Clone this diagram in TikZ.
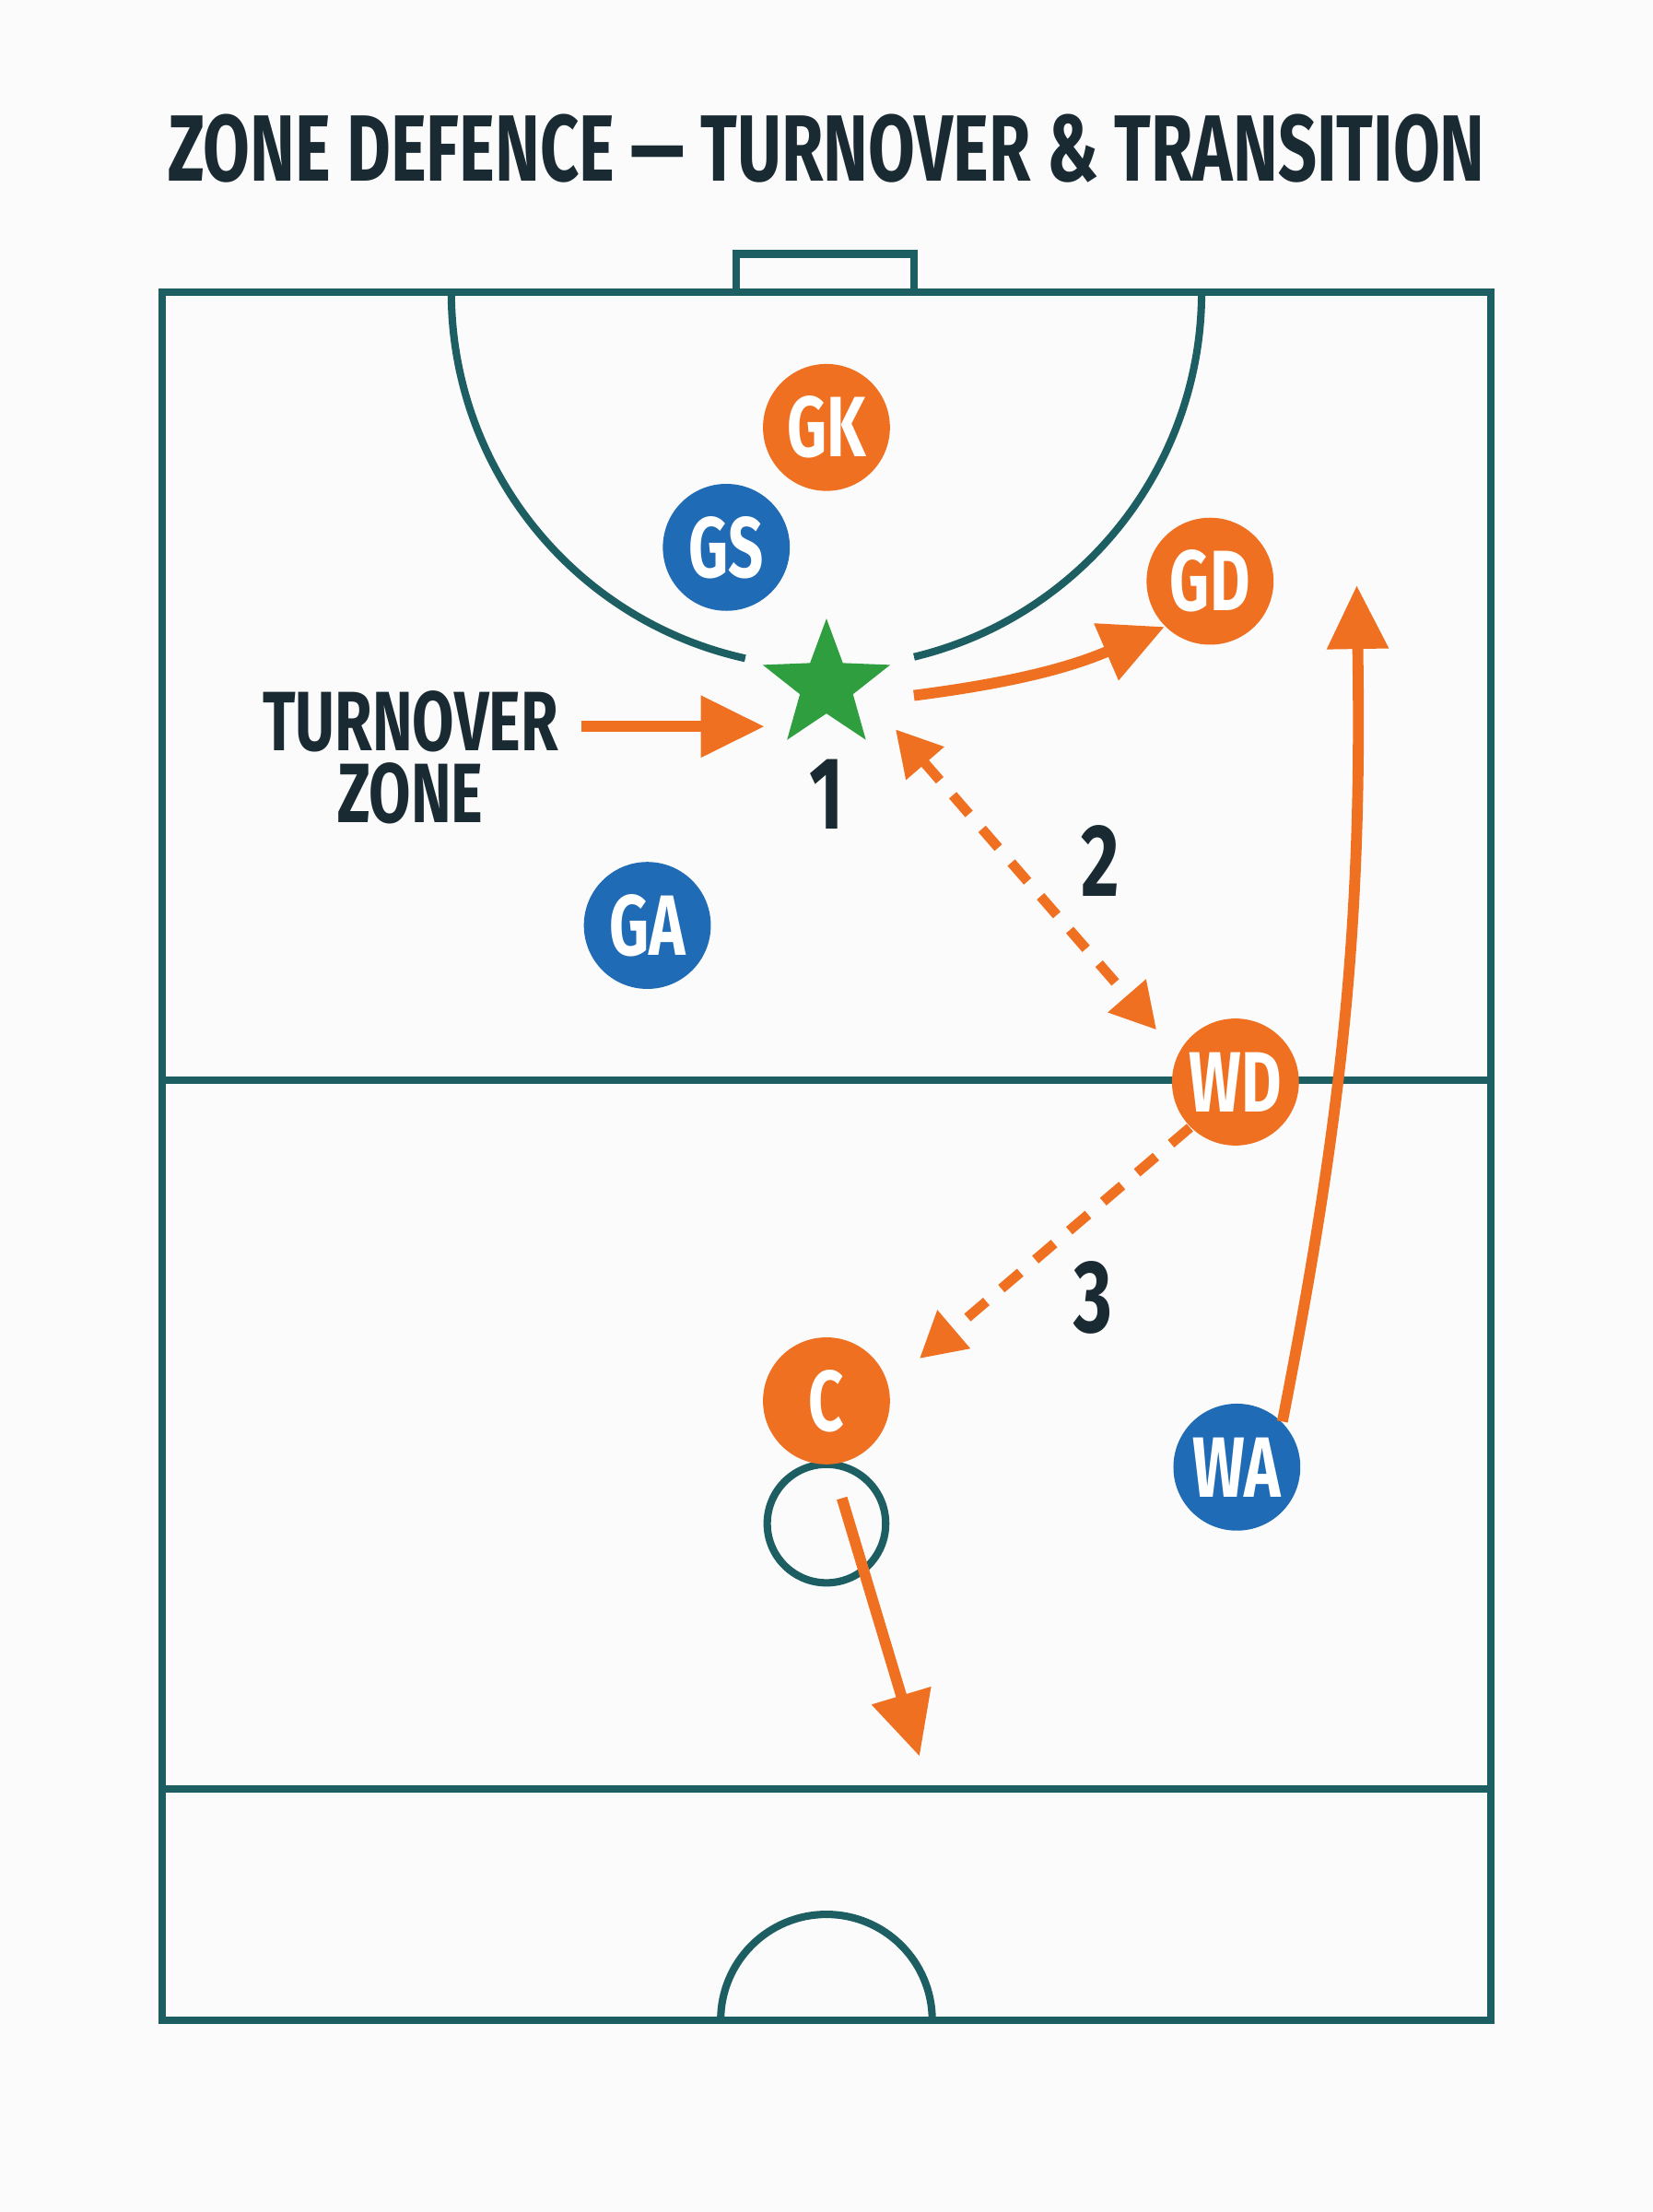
\documentclass[tikz,border=0pt]{standalone}
\usepackage{fontspec}
\setmainfont{Fira Sans}
\usetikzlibrary{arrows.meta,shapes.geometric}
\definecolor{court}{HTML}{1D5E63}
\definecolor{ink}{HTML}{1A2A33}
\definecolor{orng}{HTML}{F07022}
\definecolor{blu}{HTML}{1F6BB5}
\definecolor{grn}{HTML}{2E9E3E}
\newcommand{\cond}[1]{\scalebox{0.72}[1]{#1}}
\tikzset{
  player/.style={circle,minimum size=0.9cm,inner sep=0pt,text=white,font=\bfseries\LARGE},
  att/.style={player,fill=blu},
  def/.style={player,fill=orng},
  mv/.style={orng,line width=2.2pt,-{Triangle[length=0.45cm,width=0.42cm]}},
  pass/.style={orng,line width=2pt,dash pattern=on 5pt off 4pt,-{Triangle[length=0.32cm,width=0.34cm]}},
  lbl/.style={text=ink,font=\bfseries\huge}
}
\begin{document}
\begin{tikzpicture}[x=1cm,y=-1cm]
  \fill[white!97!gray] (0,0) rectangle (11.72,15.68);
  \useasboundingbox (0,0) rectangle (11.72,15.68);
  % Titel
  \node[text=ink,font=\bfseries\fontsize{19}{19}\selectfont] (title) at (5.86,1.05) {\cond{ZONE DEFENCE — TURNOVER \& TRANSITION}};
  % Spielfeld
  \begin{scope}[court,line width=1.5pt]
    \draw (1.15,2.07) rectangle (10.57,14.32);
    \draw (5.22,2.07) -- (5.22,1.8) -- (6.48,1.8) -- (6.48,2.07);
    \draw (1.15,7.66) -- (10.57,7.66);
    \draw (1.15,12.68) -- (10.57,12.68);
    % Schusskreise
    \draw (3.2,2.07) arc[start angle=180,end angle=102.5,radius=2.66];
    \draw (8.52,2.07) arc[start angle=0,end angle=76.5,radius=2.66];
    \draw (5.11,14.32) arc[start angle=180,end angle=360,radius=0.75];
    \draw (5.86,10.8) circle[radius=0.42];
  \end{scope}
  % Spielerinnen
  \node[def] (GK) at (5.86,3.03) {\cond{GK}};
  \node[att] (GS) at (5.15,3.88) {\cond{GS}};
  \node[def] (GD) at (8.58,4.12) {\cond{GD}};
  \node[att] (GA) at (4.59,6.56) {\cond{GA}};
  \node[def] (WD) at (8.76,7.67) {\cond{WD}};
  \node[def] (C) at (5.86,9.93) {\cond{C}};
  \node[att] (WA) at (8.77,10.40) {\cond{WA}};
  \node[star,star points=5,star point ratio=2.4,fill=grn,minimum size=0.95cm,inner sep=0pt] (turn) at (5.86,4.86) {};
  % Beschriftungen
  \node[lbl] (n1) at (5.86,5.63) {\cond{1}};
  \node[lbl] (n2) at (7.80,6.10) {\cond{2}};
  \node[lbl] (n3) at (7.75,9.20) {\cond{3}};
  \node[text=ink,font=\bfseries\fontsize{17}{14.5}\selectfont,align=center] (zone) at (2.91,5.37) {\cond{TURNOVER}\\\cond{ZONE}};
  % Laufwege und Paesse
  \coordinate (zs) at (4.12,5.15);
  \coordinate (ze) at (5.42,5.15);
  \coordinate (ce) at (6.52,12.45);
  \draw[mv] (zs) -- (ze);
  \draw[mv] (6.48,4.93) to[bend right=8] (GD.south west);
  \draw[mv] (WA.north east) to[bend right=6] (9.62,4.15);
  \draw[mv] (5.97,10.62) -- (ce);
  \draw[pass,{Triangle[length=0.32cm,width=0.34cm]}-{Triangle[length=0.32cm,width=0.34cm]}] (6.35,5.17) -- (8.2,7.3);
  \draw[pass] (WD.south west) -- (6.52,9.63);
\end{tikzpicture}
\end{document}
